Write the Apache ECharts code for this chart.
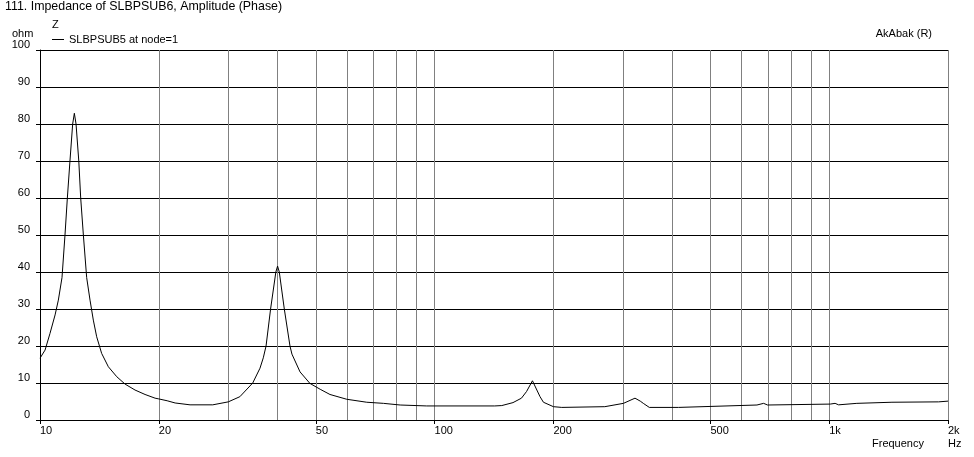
<!DOCTYPE html>
<html>
<head>
<meta charset="utf-8">
<script src="https://cdn.jsdelivr.net/npm/echarts@6/dist/echarts.min.js"></script>
<style>
html,body{margin:0;padding:0;background:#fff;}
#chart{width:974px;height:457px;}
</style>
</head>
<body>
<div id="chart"></div>
<script>
// Frequency (Hz) and impedance magnitude (ohm)
const freq = [10.0, 10.3, 10.6, 10.92, 11.13, 11.37, 11.57, 11.73, 11.91, 12.10, 12.22, 12.34, 12.54, 12.68, 12.88, 13.13, 13.39, 13.65, 13.92, 14.33, 14.90, 15.65, 16.43, 17.41, 18.46, 19.57, 20.0, 21.0, 22.0, 24.0, 27.4, 30.0, 32.1, 34.6, 36.1, 36.8, 37.4, 38.4, 39.6, 40.0, 40.4, 41.6, 43.0, 43.5, 45.6, 48.3, 51.3, 54.3, 59.9, 67.3, 74.2, 81.8, 95.5, 142, 148, 158, 166, 171, 177, 181.6, 185, 188.7, 200, 210, 270, 301, 322, 332, 338, 350, 415, 419, 656, 682, 698, 1006, 1035, 1056, 1175, 1442, 1893, 2000];
const impedance = [16.7, 18.9, 23.4, 28.4, 32.4, 38.5, 50, 60, 70, 80, 82.9, 80, 70, 60, 50, 38.5, 32.4, 27, 22.5, 18, 14.4, 11.7, 9.7, 8.1, 6.9, 5.9, 5.7, 5.2, 4.6, 4.1, 4.1, 4.9, 6.3, 10, 14, 16.8, 20, 30, 40, 41.6, 40, 30, 20, 17.8, 13, 9.9, 8.3, 6.9, 5.6, 4.8, 4.5, 4.05, 3.8, 3.8, 3.9, 4.7, 5.9, 7.7, 10.6, 8.1, 6.3, 4.8, 3.6, 3.4, 3.6, 4.5, 5.9, 5.1, 4.5, 3.4, 3.4, 3.8, 4.05, 4.5, 4.05, 4.3, 4.5, 4.1, 4.5, 4.8, 4.9, 5.1];

const xTickValues = [10, 20, 50, 100, 200, 500, 1000, 2000];
const xTickLabels = ['10', '20', '50', '100', '200', '500', '1k', '2k'];
const xGridValues = [20, 30, 40, 50, 60, 70, 80, 90, 100, 200, 300, 400, 500, 600, 700, 800, 900, 1000, 2000];
const seriesName = 'SLBPSUB5 at node=1';

const FONT = '"Liberation Sans", Arial, sans-serif';
const chart = echarts.init(document.getElementById('chart'), null, {renderer: 'canvas'});

const data = freq.map((f, i) => [f, impedance[i]]);
const labelMap = {};
xTickValues.forEach((v, i) => { labelMap[v] = xTickLabels[i]; });

chart.setOption({
  animation: false,
  backgroundColor: '#ffffff',
  textStyle: {fontFamily: FONT},
  grid: {left: 40, right: 26, top: 50, bottom: 37, show: false},
  legend: {
    show: true, left: 52, top: 34, padding: 0,
    itemWidth: 12, itemHeight: 1, icon: 'rect', itemGap: 5,
    textStyle: {fontFamily: FONT, fontSize: 11, color: '#000'},
    data: [seriesName]
  },
  xAxis: {
    type: 'log', logBase: 10, min: 10, max: 2000,
    axisLine: {show: true, lineStyle: {color: '#000', width: 1}},
    axisTick: {show: true, length: 4, lineStyle: {color: '#000'}, customValues: xTickValues},
    axisLabel: {
      show: true, customValues: xTickValues, align: 'left', margin: 5,
      fontFamily: FONT, fontSize: 11, color: '#000',
      formatter: v => labelMap[v] !== undefined ? labelMap[v] : ''
    },
    splitLine: {show: false},
    minorTick: {show: false}, minorSplitLine: {show: false}
  },
  yAxis: {
    type: 'value', min: 0, max: 100, interval: 10,
    axisLine: {show: true, lineStyle: {color: '#000', width: 1}},
    axisTick: {show: true, length: 4, lineStyle: {color: '#000'}},
    axisLabel: {
      show: true, margin: 10, fontFamily: FONT, fontSize: 11, color: '#000',
      verticalAlign: 'bottom', lineHeight: 11
    },
    splitLine: {show: true, lineStyle: {color: '#000', width: 1}}
  },
  series: [{
    name: seriesName,
    type: 'line',
    data: data,
    showSymbol: false,
    symbol: 'none',
    smooth: false,
    color: '#000',
    lineStyle: {color: '#000', width: 1},
    z: 5,
    markLine: {
      silent: true, symbol: ['none', 'none'], animation: false,
      label: {show: false},
      lineStyle: {color: '#808080', width: 1, type: 'solid'},
      emphasis: {disabled: true},
      data: xGridValues.map(v => ({xAxis: v}))
    }
  }],
  graphic: [
    {type: 'text', left: 5, top: 1, style: {text: '111. Impedance of SLBPSUB6, Amplitude (Phase)', font: '12.4px ' + FONT, fill: '#000'}},
    {type: 'text', left: 52, top: 19, style: {text: 'Z', font: '11px ' + FONT, fill: '#000'}},
    {type: 'text', left: 12, top: 28, style: {text: 'ohm', font: '11px ' + FONT, fill: '#000'}},
    {type: 'text', right: 42, top: 28, style: {text: 'AkAbak (R)', font: '11px ' + FONT, fill: '#000'}},
    {type: 'text', left: 872, top: 438, style: {text: 'Frequency', font: '11px ' + FONT, fill: '#000'}},
    {type: 'text', left: 948, top: 438, style: {text: 'Hz', font: '11px ' + FONT, fill: '#000'}}
  ]
});
</script>
</body>
</html>
